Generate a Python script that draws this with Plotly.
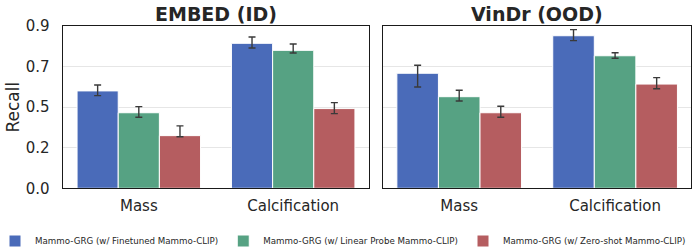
import plotly.graph_objects as go

categories = ["Mass", "Calcification"]
series_names = [
    "Mammo-GRG (w/ Finetuned Mammo-CLIP)",
    "Mammo-GRG (w/ Linear Probe Mammo-CLIP)",
    "Mammo-GRG (w/ Zero-shot Mammo-CLIP)",
]
colors = ["#4A6BB9", "#56A283", "#B55D60"]

# EMBED (ID)
embed_finetuned = [0.540, 0.804]
embed_finetuned_lo = [0.514, 0.778]
embed_finetuned_hi = [0.573, 0.839]
embed_linear = [0.419, 0.765]
embed_linear_lo = [0.394, 0.750]
embed_linear_hi = [0.453, 0.800]
embed_zero = [0.292, 0.442]
embed_zero_lo = [0.286, 0.414]
embed_zero_hi = [0.346, 0.475]

# VinDr (OOD)
vindr_finetuned = [0.638, 0.846]
vindr_finetuned_lo = [0.562, 0.819]
vindr_finetuned_hi = [0.682, 0.880]
vindr_linear = [0.508, 0.735]
vindr_linear_lo = [0.484, 0.721]
vindr_linear_hi = [0.544, 0.752]
vindr_zero = [0.419, 0.578]
vindr_zero_lo = [0.394, 0.552]
vindr_zero_hi = [0.455, 0.614]

y_tickvals = [0.0, 0.225, 0.45, 0.675, 0.9]
y_ticktext = ["0.0", "0.2", "0.5", "0.7", "0.9"]
panel_titles = ["EMBED (ID)", "VinDr (OOD)"]

panels = [
    [(embed_finetuned, embed_finetuned_lo, embed_finetuned_hi),
     (embed_linear, embed_linear_lo, embed_linear_hi),
     (embed_zero, embed_zero_lo, embed_zero_hi)],
    [(vindr_finetuned, vindr_finetuned_lo, vindr_finetuned_hi),
     (vindr_linear, vindr_linear_lo, vindr_linear_hi),
     (vindr_zero, vindr_zero_lo, vindr_zero_hi)],
]

W, H = 698, 252
FONT = "DejaVu Sans"
TXT = "#262626"

fig = go.Figure()
for p, panel in enumerate(panels):
    xa = "x" if p == 0 else "x2"
    ya = "y" if p == 0 else "y2"
    for s, (vals, lo, hi) in enumerate(panel):
        fig.add_trace(go.Bar(
            x=categories, y=vals, name=series_names[s],
            marker=dict(color=colors[s], line=dict(color="white", width=1)),
            error_y=dict(type="data", symmetric=False,
                         array=[h - v for h, v in zip(hi, vals)],
                         arrayminus=[v - l for v, l in zip(vals, lo)],
                         color="#3a3a3a", thickness=1.4, width=3.5),
            xaxis=xa, yaxis=ya, legendgroup=series_names[s],
            showlegend=(p == 0),
        ))

def px_x(a, b):
    return [a / W, b / W]

def px_y(top, bottom):
    return [(H - bottom) / H, (H - top) / H]

axis_common = dict(showline=True, linecolor="#1a1a1a", linewidth=1.3, mirror=True,
                   automargin=False,
                   tickfont=dict(family=FONT, size=15, color=TXT))
fig.update_layout(
    width=W, height=H, margin=dict(l=0, r=0, t=0, b=0, autoexpand=False),
    paper_bgcolor="white", plot_bgcolor="white",
    barmode="group", bargap=0.2, bargroupgap=0,
    font=dict(family=FONT, color=TXT),
    xaxis=dict(domain=px_x(62.7, 369.3), range=[-0.493, 1.493], anchor="y",
               ticks="", ticklabelstandoff=4, **axis_common),
    xaxis2=dict(domain=px_x(383.3, 691), range=[-0.487, 1.487], anchor="y2",
                ticks="", ticklabelstandoff=4, **axis_common),
    yaxis=dict(domain=px_y(26, 188.3), range=[0, 0.9], anchor="x",
               tickvals=y_tickvals, ticktext=y_ticktext, ticklabelstandoff=9,
               showgrid=True, gridcolor="#e6e6e6", gridwidth=1, zeroline=False,
               title=dict(text="Recall", font=dict(family=FONT, size=17, color=TXT), standoff=1),
               **axis_common),
    yaxis2=dict(domain=px_y(26, 188.3), range=[0, 0.9], anchor="x2",
                tickvals=y_tickvals, showticklabels=False,
                showgrid=True, gridcolor="#e6e6e6", gridwidth=1, zeroline=False,
                **axis_common),
    legend=dict(orientation="h", x=0.5 - 6 / W, xanchor="center", y=11 / H, yanchor="middle",
                font=dict(family=FONT, size=8.7, color=TXT), itemwidth=30,
                bgcolor="rgba(0,0,0,0)"),
)

centers = [(62.7 + 369.3) / 2 / W, (383.3 + 691) / 2 / W]
for c, t in zip(centers, panel_titles):
    fig.add_annotation(text="<b>%s</b>" % t, x=c, y=(H - 14) / H, xref="paper", yref="paper",
                       xanchor="center", yanchor="middle", showarrow=False,
                       font=dict(family=FONT, size=19, color=TXT))

fig.write_html("out.html", config={"displayModeBar": False},
               post_script="document.body.style.margin='0';document.body.style.overflow='hidden';")
